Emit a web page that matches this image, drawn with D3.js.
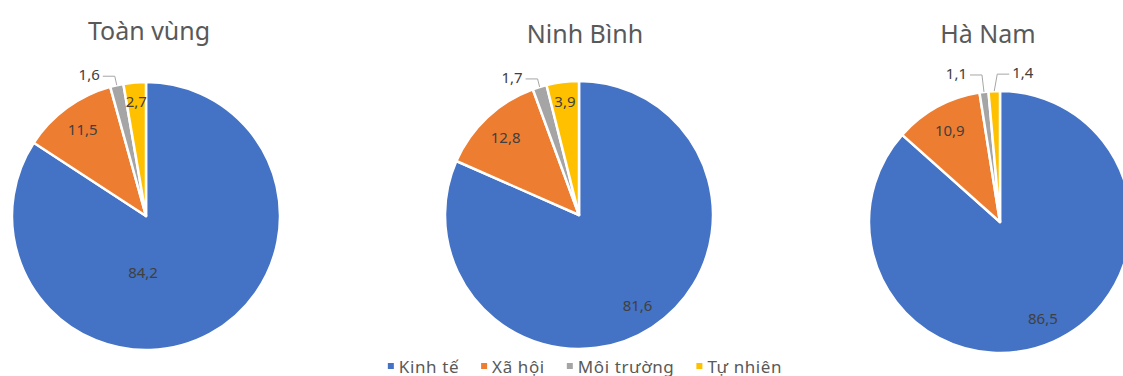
<!DOCTYPE html>
<html>
<head>
<meta charset="utf-8">
<script src="https://cdn.jsdelivr.net/npm/d3@7"></script>
<style>
  body { margin: 0; background: #fff; }
  svg { display: block; font-family: "Noto Sans", sans-serif; }
</style>
</head>
<body>
<svg id="chart" width="1123" height="376"></svg>
<script>
// data
var categories = ["Kinh tế", "Xã hội", "Môi trường", "Tự nhiên"];
var regions = ["Toàn vùng", "Ninh Bình", "Hà Nam"];
var toanVung = [84.2, 11.5, 1.6, 2.7];
var ninhBinh = [81.6, 12.8, 1.7, 3.9];
var haNam = [86.5, 10.9, 1.1, 1.4];
var colors = ["#4472C4", "#ED7D31", "#A5A5A5", "#FFC000"];

// layout of the three small charts
var layout = [
  {values: toanVung, cx: 146, cy: 216, r: 134, tx: 149, ty: 30, lead: 9, outside: [false, false, "left", false], bigAt: [183, 0.42]},
  {values: ninhBinh, cx: 579, cy: 215, r: 134, tx: 585, ty: 33, lead: 8, outside: [false, false, "left", false], bigAt: null},
  {values: haNam, cx: 1000, cy: 222, r: 131, tx: 988, ty: 33, lead: 17, outside: [false, false, "left", "right"], bigAt: null}
];

var svg = d3.select("#chart");
var fmt = function(v){ return String(v).replace(".", ","); };

var pie = d3.pie().sort(null).value(function(d){ return d; });

layout.forEach(function(c, ci) {
  var g = svg.append("g").attr("transform", "translate(" + c.cx + "," + c.cy + ")");
  var arc = d3.arc().innerRadius(0).outerRadius(c.r);
  var labelArc = d3.arc().innerRadius(c.r * 0.8).outerRadius(c.r * 0.8);
  var smallArc = d3.arc().innerRadius(c.r * 0.86).outerRadius(c.r * 0.86);
  var arcs = pie(c.values);

  g.selectAll("path.slice")
    .data(arcs)
    .enter()
    .append("path")
      .attr("class", "slice")
      .attr("d", arc)
      .attr("fill", function(d, i){ return colors[i]; })
      .attr("stroke", "#fff")
      .attr("stroke-width", 2.5)
      .attr("stroke-linejoin", "round");

  arcs.forEach(function(d, i) {
    var side = c.outside[i];
    var mid = (d.startAngle + d.endAngle) / 2;
    if (side) {
      // leader line: slice edge -> elbow -> horizontal
      var p0 = [Math.sin(mid) * c.r, -Math.cos(mid) * c.r];
      var p1 = [Math.sin(mid) * c.r + (side == "left" ? -2 : 3), -Math.cos(mid) * c.r - c.lead];
      var dir = side == "left" ? -1 : 1;
      var p2 = [p1[0] + dir * 12, p1[1]];
      g.append("polyline")
        .attr("points", [p0, p1, p2].map(function(p){ return p.join(","); }).join(" "))
        .attr("fill", "none")
        .attr("stroke", "#A6A6A6")
        .attr("stroke-width", 1);
      g.append("text")
        .attr("x", p2[0] + dir * 3)
        .attr("y", p2[1])
        .attr("dy", "-0.15em")
        .attr("text-anchor", side == "left" ? "end" : "start")
        .attr("dominant-baseline", "central")
        .attr("font-size", 15)
        .attr("fill", "#404040")
        .text(fmt(c.values[i]));
    } else {
      var pos;
      if (i == 0 && c.bigAt) {
        var a = c.bigAt[0] * Math.PI / 180;
        pos = [Math.sin(a) * c.r * c.bigAt[1], -Math.cos(a) * c.r * c.bigAt[1]];
      } else if (i == 3) {
        pos = smallArc.centroid(d);
      } else {
        pos = labelArc.centroid(d);
      }
      g.append("text")
        .attr("x", pos[0])
        .attr("y", pos[1])
        .attr("text-anchor", "middle")
        .attr("dominant-baseline", "central")
        .attr("font-size", 15)
        .attr("fill", "#404040")
        .text(fmt(c.values[i]));
    }
  });

  svg.append("text")
    .attr("x", c.tx)
    .attr("y", c.ty)
    .attr("text-anchor", "middle")
    .attr("dominant-baseline", "central")
    .attr("font-size", 25)
    .attr("fill", "#595959")
    .text(regions[ci]);
});

// legend
var legend = svg.append("g").attr("transform", "translate(0,366)");
var items = legend.selectAll("g.item")
  .data(categories)
  .enter()
  .append("g")
    .attr("class", "item");
items.append("rect")
  .attr("width", 6).attr("height", 6)
  .attr("y", -3)
  .attr("fill", function(d, i){ return colors[i]; });
items.append("text")
  .attr("x", 11)
  .attr("dominant-baseline", "central")
  .attr("font-size", 17)
  .attr("letter-spacing", 0.6)
  .attr("fill", "#595959")
  .text(function(d){ return d; });
var x = 0, widths = [];
items.each(function(){ widths.push(this.getBBox().width); });
var gap = 22;
var total = d3.sum(widths) + gap * (widths.length - 1);
x = 585 - total / 2;
items.attr("transform", function(d, i){
  var t = "translate(" + x + ",0)";
  x += widths[i] + gap;
  return t;
});
</script>
</body>
</html>
